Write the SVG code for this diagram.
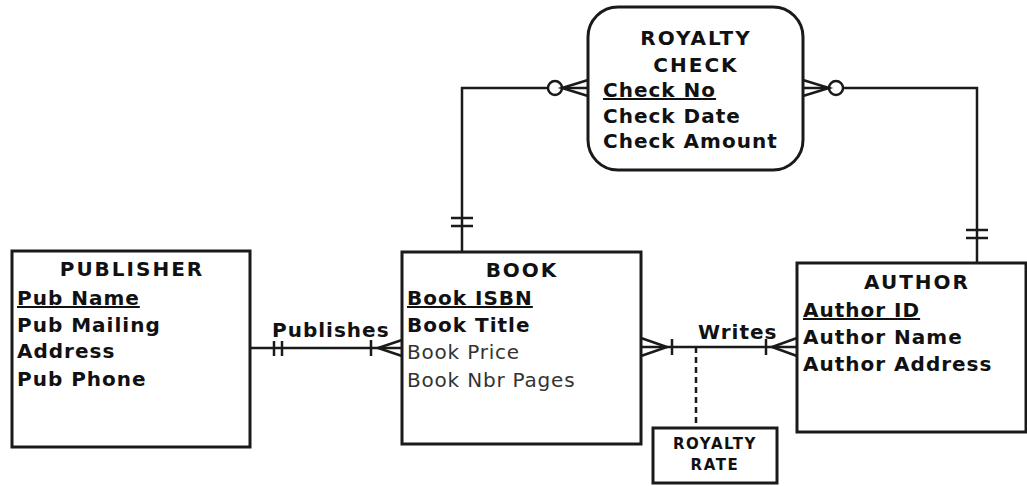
<svg xmlns="http://www.w3.org/2000/svg" width="1027" height="486" viewBox="0 0 1027 486">
<style>
.box{fill:#fff;stroke:#1a1a1a;stroke-width:3}
.ln{fill:none;stroke:#1a1a1a;stroke-width:2.5}
.t{font-family:"DejaVu Sans",Verdana,sans-serif;font-size:20px;font-weight:bold;fill:#111;letter-spacing:1px}
.c{text-anchor:middle}
.h{letter-spacing:2px}
.r{font-weight:normal;fill:#333;letter-spacing:0.8px}
.u{text-decoration:underline}
.s{font-size:15px;letter-spacing:1.6px}
</style>
<g id="connectors">
  <!-- Publishes -->
  <line class="ln" x1="250" y1="348" x2="402" y2="348"/>
  <line class="ln" x1="274" y1="341" x2="274" y2="356"/>
  <line class="ln" x1="282" y1="341" x2="282" y2="356"/>
  <line class="ln" x1="371" y1="340" x2="371" y2="356"/>
  <polyline class="ln" points="402,340 378,348 402,356"/>
  <!-- Writes -->
  <line class="ln" x1="641" y1="347" x2="797" y2="347"/>
  <polyline class="ln" points="641,338 667,347 641,356"/>
  <line class="ln" x1="672" y1="339" x2="672" y2="355"/>
  <line class="ln" x1="766" y1="339" x2="766" y2="355"/>
  <polyline class="ln" points="797,338 772,347 797,356"/>
  <line class="ln" x1="696" y1="347" x2="696" y2="428" stroke-dasharray="6,4"/>
  <!-- Book - Royalty Check -->
  <polyline class="ln" points="462,252 462,88 548,88"/>
  <line class="ln" x1="451" y1="218" x2="473" y2="218"/>
  <line class="ln" x1="451" y1="226" x2="473" y2="226"/>
  <circle class="ln" cx="555" cy="88" r="7"/>
  <line class="ln" x1="562" y1="88" x2="588" y2="88"/>
  <polyline class="ln" points="588,80 562,88 588,96"/>
  <!-- Author - Royalty Check -->
  <polyline class="ln" points="977,263 977,88 843,88"/>
  <line class="ln" x1="966" y1="230" x2="988" y2="230"/>
  <line class="ln" x1="966" y1="238" x2="988" y2="238"/>
  <circle class="ln" cx="836" cy="88" r="7"/>
  <line class="ln" x1="803" y1="88" x2="829" y2="88"/>
  <polyline class="ln" points="803,80 829,88 803,96"/>
  <text class="t" x="272" y="337">Publishes</text>
  <text class="t" x="698" y="339">Writes</text>
</g>
<g id="publisher">
  <rect class="box" x="12" y="251" width="238" height="196"/>
  <text class="t c h" x="132" y="276">PUBLISHER</text>
  <text class="t u" x="17" y="305">Pub Name</text>
  <text class="t" x="17" y="332">Pub Mailing</text>
  <text class="t" x="17" y="358">Address</text>
  <text class="t" x="17" y="386">Pub Phone</text>
</g>
<g id="book">
  <rect class="box" x="402" y="252" width="239" height="192"/>
  <text class="t c h" x="522" y="277">BOOK</text>
  <text class="t u" x="407" y="305">Book ISBN</text>
  <text class="t" x="407" y="332">Book Title</text>
  <text class="t r" x="407" y="359">Book Price</text>
  <text class="t r" x="407" y="387">Book Nbr Pages</text>
</g>
<g id="author">
  <rect class="box" x="797" y="263" width="229" height="169"/>
  <text class="t c h" x="917" y="289">AUTHOR</text>
  <text class="t u" x="803" y="317">Author ID</text>
  <text class="t" x="803" y="344">Author Name</text>
  <text class="t" x="803" y="371">Author Address</text>
</g>
<g id="royalty-check">
  <rect class="box" x="588" y="7" width="215" height="163" rx="30" ry="30"/>
  <text class="t c h" x="696" y="45">ROYALTY</text>
  <text class="t c h" x="696" y="72">CHECK</text>
  <text class="t u" x="603" y="97">Check No</text>
  <text class="t" x="603" y="123">Check Date</text>
  <text class="t" x="603" y="148">Check Amount</text>
</g>
<g id="royalty-rate">
  <rect class="box" x="653" y="428" width="124" height="55"/>
  <text class="t c s" x="715" y="449">ROYALTY</text>
  <text class="t c s" x="715" y="470">RATE</text>
</g>
</svg>
